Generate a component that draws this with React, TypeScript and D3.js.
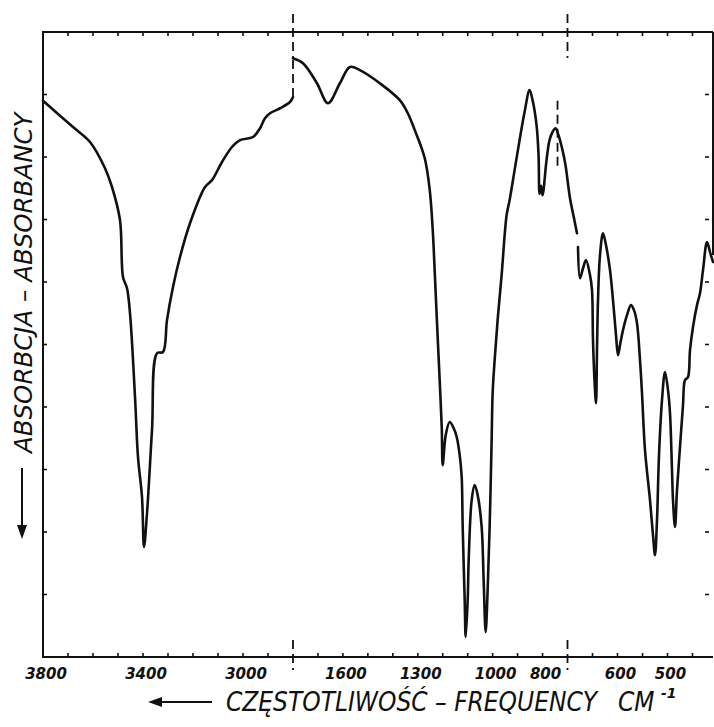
import React from 'react'
import * as d3 from 'd3'

// wavenumbers (cm-1) and relative transmission (0 = bottom, 100 = top of frame)
const waveA = [3800, 3680, 3612, 3552, 3524, 3492, 3480, 3464, 3452, 3432, 3420, 3404, 3396, 3384, 3364, 3344, 3320, 3304, 3280, 3252, 3212, 3152, 3124, 3084, 3044, 3012, 2960, 2932, 2912, 2892, 2852, 2812, 2800]
const transA = [89.0, 84.8, 82.4, 78.2, 75.2, 69.9, 60.8, 59.0, 55.0, 41.6, 32.0, 25.6, 17.6, 23.0, 36.3, 48.6, 48.8, 53.9, 59.2, 64.0, 69.4, 75.2, 76.3, 79.2, 81.6, 82.7, 83.2, 84.6, 86.2, 87.0, 87.8, 88.8, 89.6]

const waveB = [1800, 1760, 1704, 1660, 1612, 1572, 1532, 1452, 1372, 1340, 1312, 1272, 1252, 1240, 1232, 1224, 1216, 1204, 1200, 1188, 1172, 1156, 1144, 1132, 1124, 1120, 1112, 1108, 1100, 1096, 1084, 1072, 1060, 1044, 1036, 1028, 1020, 1012, 1004, 1000, 992, 980, 964, 944, 932, 912, 892, 872, 852, 840, 824, 816, 812, 806, 800, 784, 772, 760, 748, 736, 720, 708, 695, 687, 681]
const transB = [95.8, 95.0, 91.8, 88.6, 91.8, 94.4, 93.9, 91.8, 89.1, 87.0, 84.3, 79.8, 74.7, 68.3, 61.6, 54.4, 47.5, 36.8, 30.7, 35.5, 37.6, 36.6, 35.2, 32.3, 28.8, 20.8, 9.1, 3.2, 9.1, 15.5, 25.1, 27.5, 25.9, 20.8, 12.3, 4.0, 10.7, 20.8, 34.7, 42.2, 47.5, 53.9, 61.1, 70.7, 73.1, 77.9, 82.7, 87.2, 90.7, 89.1, 85.1, 80.3, 74.1, 75.4, 73.9, 79.5, 82.7, 84.0, 84.6, 83.5, 81.1, 78.7, 73.4, 70.2, 67.8]

const waveC = [679, 675, 669, 663, 655, 651, 649, 646, 643, 641, 639, 635, 629, 623, 615, 609, 603, 599, 595, 589, 581, 573, 567, 561, 555, 551, 545, 535, 529, 525, 521, 517, 511, 505, 499, 495, 491, 489, 485, 481, 475, 469, 465, 459, 455, 449, 441, 435, 429, 421, 415, 409]
const transC = [65.6, 60.6, 62.2, 63.5, 61.1, 58.7, 50.7, 44.3, 40.6, 49.1, 57.1, 64.3, 67.8, 65.9, 61.9, 57.1, 51.5, 48.3, 49.9, 52.3, 54.7, 56.3, 55.5, 53.4, 47.5, 42.2, 33.1, 25.1, 19.5, 16.3, 21.9, 32.3, 41.1, 45.6, 42.7, 39.0, 29.9, 25.1, 20.8, 26.7, 33.6, 40.3, 44.3, 44.8, 49.1, 52.8, 56.3, 58.2, 61.9, 66.4, 64.8, 63.2]

// axis labels and breaks
const tickLabels = [3800, 3400, 3000, 1600, 1300, 1000, 800, 600, 500]
const breaks = [1800, 700]
const marker = 740
const yTicks = [10, 20, 30, 40, 50, 60, 70, 80, 90]

const W = 714
const H = 727
const left = 43
const top = 32
const bottom = 657
const right = 713

const x = d3.scaleLinear()
  .domain([3800, 2800, 1800, 700, 400])
  .range([left, 293, 293, 567.5, 717.5])

const y = d3.scaleLinear().domain([0, 100]).range([bottom, top])

const line = d3.line<[number, number]>()
  .x(d => x(d[0]))
  .y(d => y(d[1]))
  .curve(d3.curveCatmullRom.alpha(0.5))

const zip = (a: number[], b: number[]) => a.map((v, i) => [v, b[i]] as [number, number])

const ticksX = [
  ...d3.range(3700, 2800, -100),
  ...d3.range(1700, 700, -100),
  ...d3.range(650, 410, -50),
]

const font = '"DejaVu Sans", sans-serif'

export default function App() {
  const ink = '#111'
  return (
    <svg width={W} height={H} style={{position: 'absolute', left: 0, top: 0, background: '#fff'}}>
      <rect width={W} height={H} fill="#fff" />

      {/* frame */}
      <g stroke={ink} strokeWidth={2} fill="none">
        <line x1={left} x2={right} y1={top} y2={top} />
        <line x1={left} x2={right} y1={bottom} y2={bottom} />
        <line x1={left} x2={left} y1={top - 1} y2={bottom + 1} />
        <line x1={right} x2={right} y1={top} y2={255} />
      </g>

      {/* ticks */}
      <g stroke={ink} strokeWidth={1.6}>
        {ticksX.map(t => (
          <g key={t}>
            <line x1={x(t)} x2={x(t)} y1={top} y2={top + 4} />
            <line x1={x(t)} x2={x(t)} y1={bottom} y2={bottom - 4} />
          </g>
        ))}
        {yTicks.map(t => (
          <g key={t}>
            <line x1={left} x2={left + 4} y1={y(t)} y2={y(t)} />
            <line x1={right - 8} x2={right - 4} y1={y(t)} y2={y(t)} />
          </g>
        ))}
      </g>

      {/* section breaks */}
      <g stroke={ink} strokeWidth={1.8} strokeDasharray="9 5">
        {breaks.map(b => (
          <g key={b}>
            <line x1={x(b)} x2={x(b)} y1={14} y2={58} />
            <line x1={x(b)} x2={x(b)} y1={640} y2={670} />
          </g>
        ))}
        <line x1={x(marker)} x2={x(marker)} y1={y(89)} y2={y(78)} />
        <line x1={x(1800)} x2={x(1800)} y1={y(transA[transA.length - 1])} y2={y(transB[0])} />
      </g>

      {/* spectrum */}
      <g stroke={ink} strokeWidth={2.6} fill="none" strokeLinejoin="round" strokeLinecap="round">
        <path d={line(zip(waveA, transA)) || ''} />
        <path d={line(zip(waveB, transB)) || ''} />
        <path d={line(zip(waveC, transC)) || ''} />
      </g>

      {/* tick labels */}
      <g fontFamily={font} fontStyle="italic" fontWeight="bold" fontSize={15} fill={ink} textAnchor="middle">
        {tickLabels.map(t => (
          <text key={t} x={x(t) + 3} y={679}>{t}</text>
        ))}
      </g>

      {/* x title */}
      <g stroke={ink} strokeWidth={2} fill={ink}>
        <line x1={158} x2={212} y1={702} y2={702} />
        <path d="M148,702 L162,697 L162,707 Z" stroke="none" />
      </g>
      <g fontFamily={font} fontStyle="italic" fill={ink} fontSize={26}>
        <text transform="translate(226,711) scale(0.9,1)">CZĘSTOTLIWOŚĆ – FREQUENCY</text>
        <text transform="translate(618,711) scale(0.9,1)">CM</text>
        <text x={661} y={698} fontSize={14} fontWeight="bold">-1</text>
      </g>

      {/* y title */}
      <g stroke={ink} strokeWidth={2} fill={ink}>
        <line x1={22} x2={22} y1={468} y2={528} />
        <path d="M22,539 L17,525 L27,525 Z" stroke="none" />
      </g>
      <text
        transform="translate(32,453) rotate(-90)"
        fontFamily={font}
        fontStyle="italic"
        fontSize={24.5}
        fill={ink}
      >ABSORBCJA – ABSORBANCY</text>
    </svg>
  )
}
